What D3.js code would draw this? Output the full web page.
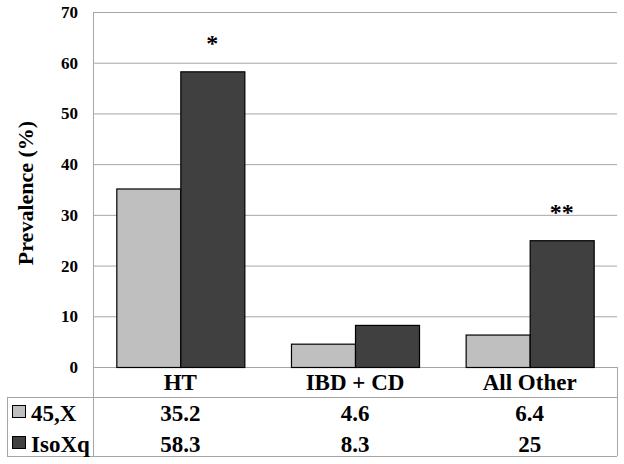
<!DOCTYPE html>
<html>
<head>
<meta charset="utf-8">
<script src="https://cdn.jsdelivr.net/npm/d3@7"></script>
<style>
  body { margin: 0; background: #fff; }
</style>
</head>
<body>
<main></main>
<script>
// Prevalence chart with data table

const categories = ["HT", "IBD + CD", "All Other"];
const seriesNames = ["45,X", "IsoXq"];
const values45X = [35.2, 4.6, 6.4];
const valuesIsoXq = [58.3, 8.3, 25];
const tableLabels45X = ["35.2", "4.6", "6.4"];
const tableLabelsIsoXq = ["58.3", "8.3", "25"];
const marks = ["*", "", "**"];
const yTicks = [0, 10, 20, 30, 40, 50, 60, 70];

const w = 624, h = 464;
const plotLeft = 93, plotRight = 617, plotTop = 12, zero = 367;
const tableTop = 397, tableBottom = 456, tableLeft = 7;
const colors = ["#bfbfbf", "#404040"];

const svg = d3.select("main").append("svg")
  .attr("width", w).attr("height", h);

const xScale = d3.scaleBand()
  .domain(categories)
  .range([plotLeft, plotRight])
  .paddingInner(0.267)
  .paddingOuter(0.1335);

const xSub = d3.scaleBand()
  .domain(seriesNames)
  .range([0, xScale.bandwidth()]);

const yScale = d3.scaleLinear()
  .domain([0, 70])
  .range([zero, plotTop]);

//Gridlines
svg.append("g")
  .selectAll("line")
  .data(yTicks)
  .enter()
  .append("line")
  .attr("x1", plotLeft).attr("x2", plotRight)
  .attr("y1", d => yScale(d) + 0.5).attr("y2", d => yScale(d) + 0.5)
  .attr("stroke", "#a6a6a6").attr("stroke-width", 1);

//Y axis
const y_axis = d3.axisLeft(yScale).tickValues(yTicks).tickSize(0).tickPadding(15);
const gy = svg.append("g")
  .attr("transform", "translate(" + plotLeft + ",0)")
  .call(y_axis);
gy.select(".domain").remove();
gy.selectAll("text").attr("fill", "#000").style("font-size", "17px");

svg.append("text")
  .attr("transform", "translate(33,193) rotate(-90)")
  .attr("text-anchor", "middle")
  .style("font-size", "22px")
  .text("Prevalence (%)");

//Bars
const data = categories.map((c, i) => ({ cat: c, vals: [values45X[i], valuesIsoXq[i]], mark: marks[i] }));

const groups = svg.selectAll(".grp")
  .data(data)
  .enter()
  .append("g")
  .attr("class", "grp")
  .attr("transform", d => "translate(" + xScale(d.cat) + ",0)");

groups.selectAll("rect")
  .data(d => d.vals.map((v, j) => ({ s: seriesNames[j], v: v, j: j })))
  .enter()
  .append("rect")
  .attr("x", d => xSub(d.s) + 0.5)
  .attr("y", d => yScale(d.v) + 0.5)
  .attr("width", xSub.bandwidth())
  .attr("height", d => yScale(0) - yScale(d.v))
  .attr("fill", d => colors[d.j])
  .attr("stroke", "#000")
  .attr("stroke-width", 1.2);

groups.append("text")
  .attr("x", xSub("IsoXq") + xSub.bandwidth() / 2)
  .attr("y", d => yScale(d.vals[1]) - 20)
  .attr("text-anchor", "middle")
  .style("font-size", "24px")
  .text(d => d.mark);

//Axis line & table frame
const frame = svg.append("g").attr("stroke", "#a6a6a6").attr("stroke-width", 1);
frame.append("line").attr("x1", plotLeft + 0.5).attr("x2", plotLeft + 0.5).attr("y1", plotTop).attr("y2", tableBottom);
frame.append("line").attr("x1", tableLeft).attr("x2", plotRight).attr("y1", tableTop + 0.5).attr("y2", tableTop + 0.5);
frame.append("line").attr("x1", tableLeft).attr("x2", plotRight).attr("y1", tableBottom + 0.5).attr("y2", tableBottom + 0.5);
frame.append("line").attr("x1", tableLeft + 0.5).attr("x2", tableLeft + 0.5).attr("y1", tableTop).attr("y2", tableBottom);
frame.append("line").attr("x1", plotRight + 0.5).attr("x2", plotRight + 0.5).attr("y1", zero).attr("y2", tableBottom);

//Category labels
svg.selectAll(".cat")
  .data(categories)
  .enter()
  .append("text")
  .attr("class", "cat")
  .attr("x", d => xScale(d) + xScale.bandwidth() / 2)
  .attr("y", 390)
  .attr("text-anchor", "middle")
  .style("font-size", "23px")
  .text(d => d);

//Table rows
const rows = [
  { name: seriesNames[0], labels: tableLabels45X, y: 421 },
  { name: seriesNames[1], labels: tableLabelsIsoXq, y: 452 }
];

rows.forEach((r, j) => {
  svg.append("rect")
    .attr("x", 12.5).attr("y", r.y - 15.5)
    .attr("width", 13).attr("height", 12)
    .attr("fill", colors[j]).attr("stroke", "#000");
  svg.append("text")
    .attr("x", 31).attr("y", r.y)
    .style("font-size", "23px")
    .text(r.name);
  svg.selectAll(".row" + j)
    .data(r.labels)
    .enter()
    .append("text")
    .attr("x", (d, i) => xScale(categories[i]) + xScale.bandwidth() / 2)
    .attr("y", r.y)
    .attr("text-anchor", "middle")
    .style("font-size", "23px")
    .text(d => d);
});

// same serif face on every label
svg.selectAll("text")
  .style("font-family", "'Liberation Serif'")
  .style("font-weight", "bold");
</script>
</body>
</html>
